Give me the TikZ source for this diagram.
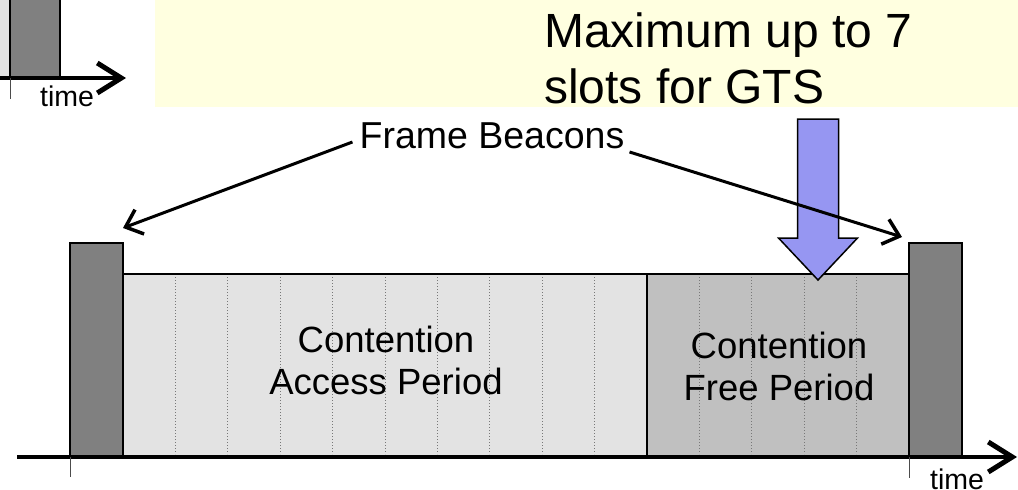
\documentclass[tikz,border=0pt]{standalone}
\usepackage{fontspec}
\setmainfont{Liberation Sans}
\usetikzlibrary{arrows.meta,calc}
\definecolor{capgray}{RGB}{227,227,227}
\definecolor{cfpgray}{RGB}{192,192,192}
\definecolor{bcgray}{RGB}{128,128,128}
\definecolor{noteyellow}{RGB}{255,255,224}
\definecolor{gtsblue}{RGB}{150,150,242}
\definecolor{slotgray}{RGB}{120,120,120}
\tikzset{
  periodbox/.style={draw=black, line width=2.5pt, inner sep=0pt, outer sep=0pt},
  beacon/.style={periodbox, fill=bcgray},
  capbox/.style={periodbox, fill=capgray},
  cfpbox/.style={periodbox, fill=cfpgray},
  slotline/.style={draw=slotgray, line width=1pt, dotted},
  timeaxis/.style={line width=4.5pt, -{Straight Barb[length=24pt,width=30pt,line width=5pt]}},
  tickline/.style={draw=black!70, line width=0.8pt},
  ptr/.style={line width=3pt, -{Straight Barb[length=15pt,width=26pt,line width=3.5pt]}},
  lbl/.style={inner sep=0pt, font=\fontsize{36.5}{42}\selectfont, align=center},
  timelbl/.style={inner sep=0pt, font=\fontsize{28.5}{32}\selectfont},
  gtsarrow/.style={draw=black, line width=1.5pt, fill=gtsblue, line join=miter},
}
\begin{document}
\begin{tikzpicture}[x=1pt,y=-1pt]
\useasboundingbox (0,0) rectangle (1018,490);
\clip (0,0) rectangle (1018,490);

% top note box
\node[fill=noteyellow, inner sep=0pt, minimum width=863pt, minimum height=107pt, anchor=north west] (note) at (155,0) {};
\node[inner sep=0pt, anchor=west, align=left, font=\fontsize{48}{56}\selectfont] (gtstext) at (544,58) {Maximum up to 7\\slots for GTS};

% top-left fragment of previous superframe
\fill[capgray] (0,0) rectangle (10,78);
\node[beacon, minimum width=50pt, minimum height=100pt, anchor=south west] (b0) at (10,78) {};
\coordinate (tax0) at (-5,78);
\coordinate (tax1) at (126,78);
\draw[timeaxis] (tax0) -- (tax1);
\draw[tickline] (b0.south west) -- ++(0,21);
\node[timelbl] (time0) at (67,96) {time};

% superframe periods
\node[capbox, minimum width=524pt, minimum height=183pt, anchor=south west] (cap) at (123,457) {};
\node[cfpbox, minimum width=262pt, minimum height=183pt, anchor=south west] (cfp) at (647,457) {};
\foreach \i in {1,...,9}
  \draw[slotline] ($(cap.north west)!\i/10!(cap.north east)+(0,3)$) -- ($(cap.south west)!\i/10!(cap.south east)+(0,-3)$);
\foreach \i in {1,...,4}
  \draw[slotline] ($(cfp.north west)!\i/5!(cfp.north east)+(0,3)$) -- ($(cfp.south west)!\i/5!(cfp.south east)+(0,-3)$);
\node[lbl] (caplbl) at (386,360) {Contention\\Access Period};
\node[lbl] (cfplbl) at (779,366) {Contention\\Free Period};

% beacons
\node[beacon, minimum width=53pt, minimum height=214pt, anchor=south west] (b1) at (70,457) {};
\node[beacon, minimum width=53pt, minimum height=214pt, anchor=south west] (b2) at (909,457) {};

% time axis
\coordinate (ax0) at (17,457);
\coordinate (ax1) at (1017,457);
\draw[timeaxis] (ax0) -- (ax1);
\draw[tickline] (b1.south west) -- ++(0,20);
\draw[tickline] (b2.south west) -- ++(0,21);
\node[timelbl] (time1) at (957,479) {time};

% GTS arrow
\coordinate (gtstip) at (818,280);
\draw[gtsarrow] (gtstip) -- ++(-39.5,-42) -- ++(19,0) -- ++(0,-119) -- ++(41,0) -- ++(0,119) -- ++(19,0) -- cycle;

% frame beacons label and pointers
\node[lbl, font=\fontsize{37.5}{42}\selectfont] (fb) at (492,136) {Frame Beacons};
\draw[ptr] ([shift={(-7,6)}]fb.west) -- ([shift={(0,-15)}]b1.north east);
\draw[ptr] ([shift={(5,16)}]fb.east) -- ([shift={(-7,-6)}]b2.north west);
\end{tikzpicture}
\end{document}
